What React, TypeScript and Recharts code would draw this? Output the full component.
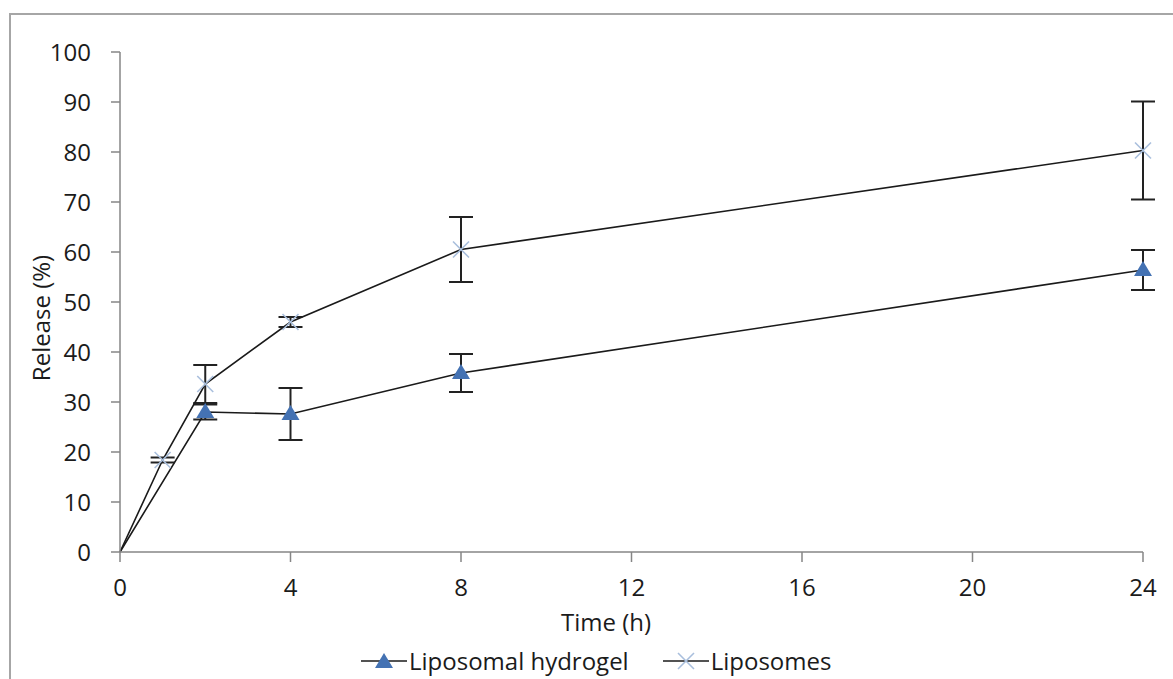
import { LineChart, Line, XAxis, YAxis, ErrorBar } from "recharts"

const FONT = "'Open Sans', sans-serif"

const hydrogelTime = [0, 2, 4, 8, 24]
const hydrogelRelease = [0, 28, 27.6, 35.8, 56.4]
const hydrogelSd = [null, 1.5, 5.2, 3.8, 4]

const liposomeTime = [0, 1, 2, 4, 8, 24]
const liposomeRelease = [0, 18.4, 33.6, 46, 60.5, 80.3]
const liposomeSd = [null, 0.5, 3.8, 1, 6.5, 9.8]

const xTicks = [0, 4, 8, 12, 16, 20, 24]
const yTicks = [0, 10, 20, 30, 40, 50, 60, 70, 80, 90, 100]

const hydrogelData = hydrogelTime.map((t, i) => ({
  time: t,
  release: hydrogelRelease[i],
  sd: hydrogelSd[i],
}))
const liposomeData = liposomeTime.map((t, i) => ({
  time: t,
  release: liposomeRelease[i],
  sd: liposomeSd[i],
}))

const TRI = "#4472b3"
const CROSS = "#a9bfdd"
const AXIS = "#868686"

function Triangle({ cx, cy, payload }: any) {
  if (cx == null || cy == null) return null
  if (payload && payload.time === 0) return null
  return (
    <path
      d={`M${cx},${cy - 9} L${cx + 9},${cy + 6} L${cx - 9},${cy + 6} Z`}
      fill={TRI}
    />
  )
}

function Cross({ cx, cy, payload }: any) {
  if (cx == null || cy == null) return null
  if (payload && payload.time === 0) return null
  const s = 8
  return (
    <path
      d={`M${cx - s},${cy - s} L${cx + s},${cy + s} M${cx - s},${cy + s} L${cx + s},${cy - s}`}
      stroke={CROSS}
      strokeWidth={1.6}
    />
  )
}

function LegendKey({ kind }: { kind: "tri" | "cross" }) {
  return (
    <svg width={46} height={24} style={{ display: "block" }}>
      <line x1={0} y1={12} x2={46} y2={12} stroke="#1a1a1a" strokeWidth={1.6} />
      {kind === "tri" ? <Triangle cx={23} cy={13} /> : <Cross cx={23} cy={12} />}
    </svg>
  )
}

export default function App() {
  return (
    <div
      style={{
        position: "absolute",
        left: 0,
        top: 0,
        width: 1173,
        height: 679,
        overflow: "hidden",
        background: "#fff",
        fontFamily: FONT,
      }}
    >
      <div
        style={{
          position: "absolute",
          left: 9,
          top: 13,
          width: 1200,
          height: 700,
          borderTop: "2px solid #a6a6a6",
          borderLeft: "2px solid #a6a6a6",
        }}
      />
      <div style={{ position: "absolute", left: 0, top: 0 }}>
        <LineChart
          width={1173}
          height={679}
          margin={{ top: 52, right: 30, left: 0, bottom: 27 }}
        >
          <XAxis
            dataKey="time"
            type="number"
            domain={[0, 24]}
            ticks={xTicks}
            allowDuplicatedCategory={false}
            height={100}
            stroke={AXIS}
            strokeWidth={1.5}
            tickSize={10}
            tickMargin={17}
            tick={{ fill: "#1b1b1b", fontSize: 24, fontFamily: FONT }}
            label={{
              content: () => (
                <text
                  x={606}
                  y={631}
                  textAnchor="middle"
                  fontSize={24}
                  fontFamily={FONT}
                  fill="#1b1b1b"
                >
                  Time (h)
                </text>
              ),
            }}
          />
          <YAxis
            type="number"
            domain={[0, 100]}
            ticks={yTicks}
            width={120}
            stroke={AXIS}
            strokeWidth={1.5}
            tickSize={9}
            tickMargin={20}
            tick={{ fill: "#1b1b1b", fontSize: 24, fontFamily: FONT }}
            label={{
              content: () => (
                <text
                  x={50}
                  y={318}
                  textAnchor="middle"
                  fontSize={24}
                  fontFamily={FONT}
                  fill="#1b1b1b"
                  transform="rotate(-90 50 318)"
                >
                  Release (%)
                </text>
              ),
            }}
          />
          <Line
            data={hydrogelData}
            dataKey="release"
            stroke="#1a1a1a"
            strokeWidth={1.6}
            dot={<Triangle />}
            activeDot={false}
            isAnimationActive={false}
          >
            <ErrorBar dataKey="sd" width={12} stroke="#222" strokeWidth={2} direction="y" />
          </Line>
          <Line
            data={liposomeData}
            dataKey="release"
            stroke="#1a1a1a"
            strokeWidth={1.6}
            dot={<Cross />}
            activeDot={false}
            isAnimationActive={false}
          >
            <ErrorBar dataKey="sd" width={12} stroke="#222" strokeWidth={2} direction="y" />
          </Line>
        </LineChart>
      </div>
      <div
        style={{
          position: "absolute",
          left: 361,
          top: 647,
          display: "flex",
          alignItems: "center",
          fontSize: 24,
          color: "#1b1b1b",
          lineHeight: "28px",
        }}
      >
        <LegendKey kind="tri" />
        <span style={{ marginLeft: 2 }}>Liposomal hydrogel</span>
        <span style={{ width: 34 }} />
        <LegendKey kind="cross" />
        <span style={{ marginLeft: 2 }}>Liposomes</span>
      </div>
    </div>
  )
}
